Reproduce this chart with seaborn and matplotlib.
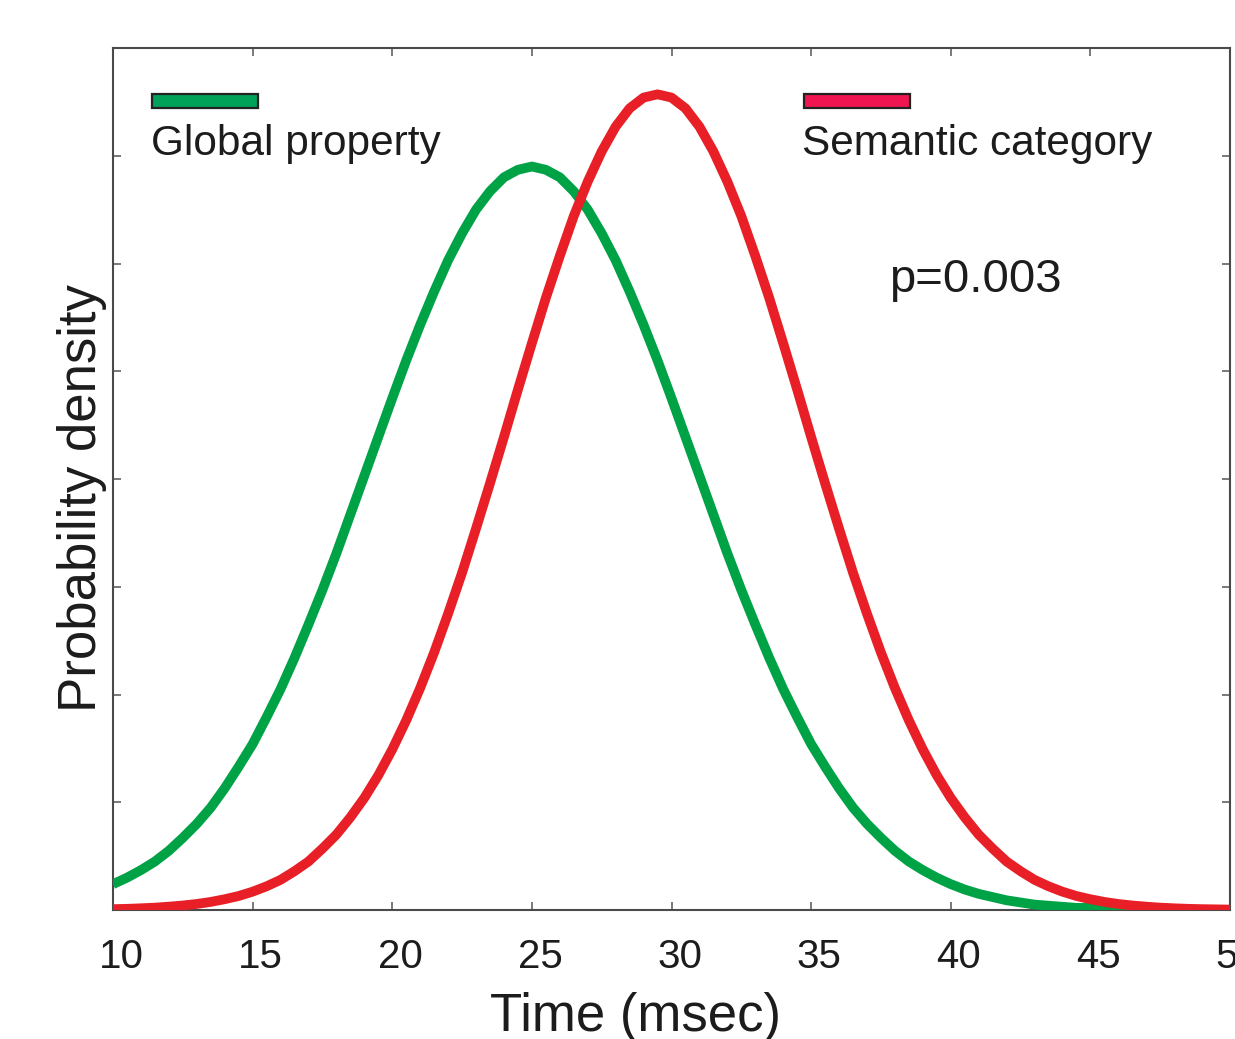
import numpy as np
import pandas as pd
import matplotlib
matplotlib.use("Agg")
import matplotlib.pyplot as plt
from matplotlib.patches import Rectangle
import matplotlib.transforms as mtransforms
import seaborn as sns

# Time axis (msec), sampled every half millisecond from 10 to 50
time_ms = [10 + 0.5 * i for i in range(81)]

# Probability density of decision time, global-property task
global_property = [
    0.0024, 0.0030, 0.0037, 0.0045, 0.0055, 0.0067, 0.0080, 0.0095, 0.0113, 0.0133,
    0.0154, 0.0179, 0.0205, 0.0234, 0.0265, 0.0297, 0.0331, 0.0367, 0.0403, 0.0439,
    0.0475, 0.0510, 0.0543, 0.0574, 0.0603, 0.0628, 0.0650, 0.0667, 0.0680, 0.0687,
    0.0690,
    0.0687, 0.0680, 0.0667, 0.0650, 0.0628, 0.0603, 0.0574, 0.0543, 0.0510, 0.0475,
    0.0439, 0.0403, 0.0367, 0.0331, 0.0297, 0.0265, 0.0234, 0.0205, 0.0179, 0.0154,
    0.0133, 0.0113, 0.0095, 0.0080, 0.0067, 0.0055, 0.0045, 0.0037, 0.0030, 0.0024,
    0.0019, 0.0015, 0.0012, 0.0009, 0.0007, 0.0005, 0.0004, 0.0003, 0.0002, 0.0002,
    0.0001, 0.0001, 0.00007, 0.00005, 0.00003, 0.00002, 0.00001, 0.00001, 0.0, 0.0,
]

# Probability density of decision time, semantic-category task
semantic_category = [
    0.00008, 0.00011, 0.00016, 0.00022, 0.00031, 0.00042, 0.00056, 0.00075, 0.0010, 0.0013,
    0.0017, 0.0022, 0.0028, 0.0036, 0.0045, 0.0057, 0.0070, 0.0086, 0.0104, 0.0125,
    0.0149, 0.0176, 0.0206, 0.0239, 0.0275, 0.0313, 0.0354, 0.0396, 0.0439, 0.0483,
    0.0526, 0.0568, 0.0607, 0.0644, 0.0676, 0.0704, 0.0727, 0.0744, 0.0754, 0.0757,
    0.0754, 0.0744, 0.0727, 0.0704, 0.0676, 0.0644, 0.0607, 0.0568, 0.0526, 0.0483,
    0.0439, 0.0396, 0.0354, 0.0313, 0.0275, 0.0239, 0.0206, 0.0176, 0.0149, 0.0125,
    0.0104, 0.0086, 0.0070, 0.0057, 0.0045, 0.0036, 0.0028, 0.0022, 0.0017, 0.0013,
    0.0010, 0.00075, 0.00056, 0.00042, 0.00031, 0.00022, 0.00016, 0.00011, 0.00008, 0.00006,
    0.00004,
]

series_names = ["Global property", "Semantic category"]
p_value_text = "p=0.003"
x_ticks = [10, 15, 20, 25, 30, 35, 40, 45, 50]
y_ticks = [0.0, 0.01, 0.02, 0.03, 0.04, 0.05, 0.06, 0.07, 0.08]

df = pd.DataFrame({
    "Time": time_ms * 2,
    "Density": global_property + semantic_category,
    "Task": [series_names[0]] * len(time_ms) + [series_names[1]] * len(time_ms),
})

sns.set_theme(style="ticks")
plt.rcParams["font.family"] = ["Liberation Sans", "DejaVu Sans"]

line_colors = {series_names[0]: "#00a246", series_names[1]: "#e81f26"}
key_colors = ["#00a25a", "#ee1550"]
text_color = "#1c1c1c"

W, H = 1235, 1039
fig = plt.figure(figsize=(W / 100, H / 100), dpi=100)
fig.patch.set_facecolor("white")
ax = fig.add_axes([113 / W, 1 - 910 / H, 1117 / W, 862 / H])

sns.lineplot(data=df, x="Time", y="Density", hue="Task", palette=line_colors,
             linewidth=7, ax=ax, legend=False, zorder=3)
for ln in ax.get_lines():
    ln.set_solid_capstyle("butt")
    ln.set_solid_joinstyle("round")

ax.set_xlim(10, 50)
ax.set_ylim(0, 0.08)
ax.set_xticks(x_ticks)
ax.set_xticklabels([str(t) for t in x_ticks], fontsize=29, color=text_color)
ax.set_yticks(y_ticks)
ax.set_yticklabels([])
ax.set_xlabel("")
ax.set_ylabel("")
ax.tick_params(axis="both", direction="in", length=6, width=1.1, color="#555555",
               top=True, right=True)
ax.tick_params(axis="x", pad=20)
offset = mtransforms.ScaledTranslation(8 / 100, 0, fig.dpi_scale_trans)
for lbl in ax.get_xticklabels():
    lbl.set_transform(lbl.get_transform() + offset)

for sp in ax.spines.values():
    sp.set_visible(True)
    sp.set_color("#4a4a4a")
    sp.set_linewidth(1.5)

# Legend keys with their labels underneath
key_w, key_h = 106 / 1117, 14 / 862
keys = [((152 - 113) / 1117, key_colors[0], series_names[0], (151 - 113) / 1117),
        ((804 - 113) / 1117, key_colors[1], series_names[1], (802 - 113) / 1117)]
for kx, col, name, tx in keys:
    ax.add_patch(Rectangle((kx, (910 - 108) / 862), key_w, key_h, transform=ax.transAxes,
                           facecolor=col, edgecolor="#222222", linewidth=1.6, zorder=4))
    ax.text(tx, (910 - 155) / 862, name, transform=ax.transAxes, fontsize=30.5,
            ha="left", va="baseline", color=text_color, zorder=4)

ax.text((889 - 113) / 1117, (910 - 292) / 862, p_value_text, transform=ax.transAxes,
        fontsize=34, ha="left", va="baseline", color=text_color)

fig.text(635 / W, 1 - 1031 / H, "Time (msec)", fontsize=38, ha="center",
         va="baseline", color=text_color)
fig.text(96 / W, 1 - 498 / H, "Probability density", fontsize=38, rotation=90,
         rotation_mode="anchor", ha="center", va="baseline", color=text_color)

fig.savefig("out.png", dpi=100, facecolor="white")
